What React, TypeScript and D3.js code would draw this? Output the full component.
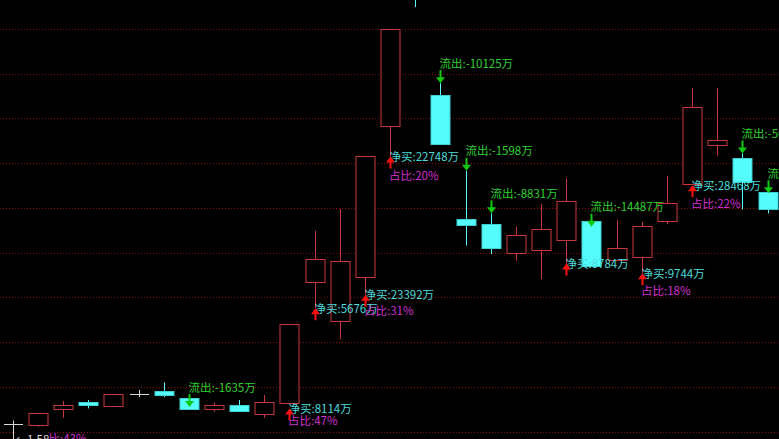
import React from 'react';
import * as d3 from 'd3';

const W = 779;
const H = 439;

// OHLC per session (price units)
const opens = [1.617, 1.614, 1.650, 1.666, 1.658, 1.684, 1.691, 1.676, 1.650, 1.660, 1.639, 1.665, 1.934, 1.848, 1.945, 2.284, 2.620, 2.352, 2.075, 2.065, 1.999, 2.005, 2.029, 2.071, 1.984, 1.990, 2.070, 2.154, 2.240, 2.211, 2.135];
const highs = [1.625, 1.641, 1.669, 1.671, 1.684, 1.693, 1.710, 1.678, 1.665, 1.671, 1.682, 1.841, 2.049, 2.098, 2.216, 2.500, 2.640, 2.379, 2.183, 2.088, 2.058, 2.109, 2.166, 2.071, 2.073, 2.069, 2.172, 2.368, 2.368, 2.222, 2.158];
const lows = [1.580, 1.611, 1.631, 1.652, 1.656, 1.677, 1.677, 1.651, 1.645, 1.646, 1.631, 1.665, 1.876, 1.807, 1.906, 2.213, 2.549, 2.242, 2.016, 1.997, 1.982, 1.941, 1.954, 1.971, 1.984, 1.954, 2.064, 2.151, 2.217, 2.097, 2.088];
const closes = [1.617, 1.641, 1.660, 1.660, 1.684, 1.684, 1.681, 1.651, 1.660, 1.646, 1.666, 1.841, 1.985, 1.981, 2.216, 2.500, 2.580, 2.242, 2.061, 2.011, 2.039, 2.054, 2.115, 1.971, 2.010, 2.060, 2.111, 2.326, 2.251, 2.157, 2.098];

const gridValues = [1.6, 1.7, 1.8, 1.9, 2.0, 2.1, 2.2, 2.3, 2.4, 2.5];

// 流出 annotations
const outIdx = [7, 17, 18, 19, 23, 29, 30];
const outVals = [-1635, -10125, -1598, -8831, -14487, -5612, -2315];
const outAnchor = [1.655, 2.379, 2.183, 2.088, 2.058, 2.222, 2.133];

// 净买 annotations
const buyIdx = [11, 12, 14, 15, 22, 25, 27];
const buyVals = [8114, 5676, 23392, 22748, 8784, 9744, 28468];
const buyAnchor = [1.652, 1.876, 1.906, 2.215, 1.976, 1.954, 2.151];

// 占比 annotations
const ratioIdx = [1, 11, 14, 15, 25, 27];
const ratioVals = [43, 47, 31, 20, 18, 22];
const ratioAnchor = [1.584, 1.626, 1.871, 2.172, 1.915, 2.111];

const lowLabelIdx = 0;
const lowLabelValue = 1.58;

const RED = '#c8383a';
const CYAN = '#55fcfc';
const WHITE = '#d8d8d8';
const FONT = '"Noto Sans CJK SC", "Noto Sans", sans-serif';

export default function App() {
  const x = d3.scaleLinear().domain([0, 30]).range([12.7, 767.5]);
  const y = d3.scaleLinear().domain([1.6, 2.5]).range([431.7, 29]);
  const bw = 19;

  const candles = opens.map((o, i) => {
    const c = closes[i];
    const cx = Math.round(x(i)) + 0.5;
    const up = c > o;
    const flat = Math.abs(c - o) < 1e-9;
    const color = flat ? WHITE : up ? RED : CYAN;
    const yTop = Math.round(y(Math.max(o, c))) + 0.5;
    const yBot = Math.round(y(Math.min(o, c))) + 0.5;
    const yH = y(highs[i]);
    const yL = y(lows[i]);
    if (flat) {
      return (
        <g key={i}>
          <line x1={cx} x2={cx} y1={yH} y2={yL} stroke={color} strokeWidth={1} />
          <line x1={cx - bw / 2} x2={cx + bw / 2} y1={yTop} y2={yTop} stroke={color} strokeWidth={1} />
        </g>
      );
    }
    return (
      <g key={i}>
        <line x1={cx} x2={cx} y1={yH} y2={yTop} stroke={color} strokeWidth={1} />
        <line x1={cx} x2={cx} y1={yBot} y2={yL} stroke={color} strokeWidth={1} />
        <rect
          x={cx - bw / 2}
          y={yTop}
          width={bw}
          height={Math.max(1, yBot - yTop)}
          fill={up ? '#000' : CYAN}
          stroke={up ? color : '#3fd0d0'}
          strokeWidth={1}
        />
      </g>
    );
  });

  return (
    <div style={{ position: 'fixed', left: 0, top: 0, width: W, height: H, background: '#000' }}>
      <svg width={W} height={H} style={{ display: 'block', background: '#000' }}>
        {gridValues.map((g) => (
          <line
            key={g}
            x1={0}
            x2={W}
            y1={Math.round(y(g)) + 0.5}
            y2={Math.round(y(g)) + 0.5}
            stroke="#8a0c0c"
            strokeWidth={1}
            strokeDasharray="1 2"
          />
        ))}
        {candles}
        {outIdx.map((idx, k) => {
          const cx = Math.round(x(idx)) + 0.5;
          const ty = y(outAnchor[k]);
          return (
            <g key={'o' + k}>
              <line x1={cx} x2={cx} y1={ty - 13} y2={ty - 4} stroke="#10c810" strokeWidth={2} />
              <path d={`M${cx - 4.5},${ty - 6}L${cx + 4.5},${ty - 6}L${cx},${ty}Z`} fill="#10c810" />
              <text x={cx - 1} y={ty - 15.5} fill="#30d030" fontSize={11.5} fontFamily={FONT}>
                {`流出:${outVals[k]}万`}
              </text>
            </g>
          );
        })}
        {buyIdx.map((idx, k) => {
          const cx = Math.round(x(idx)) + 0.5;
          const ty = y(buyAnchor[k]);
          return (
            <g key={'b' + k}>
              <text x={cx - 1} y={ty + 4.5} fill="#4cdada" fontSize={11.5} fontFamily={FONT}>
                {`净买:${buyVals[k]}万`}
              </text>
              <line x1={cx} x2={cx} y1={ty + 4} y2={ty + 12} stroke="#ff1010" strokeWidth={2} />
              <path d={`M${cx - 4.5},${ty + 6}L${cx + 4.5},${ty + 6}L${cx},${ty}Z`} fill="#ff1010" />
            </g>
          );
        })}
        {ratioIdx.map((idx, k) => {
          const cx = Math.round(x(idx)) + 0.5;
          const ty = y(ratioAnchor[k]);
          return (
            <text key={'r' + k} x={cx - 1.5} y={ty + 4.5} fill="#d030d0" fontSize={11.5} fontFamily={FONT}>
              {`占比:${ratioVals[k]}%`}
            </text>
          );
        })}
        {(() => {
          const cx = Math.round(x(lowLabelIdx)) + 0.5;
          const ty = y(lowLabelValue);
          return (
            <g>
              <rect x={cx + 2} y={ty - 9} width={32} height={14} fill="#000" />
              <text x={cx + 2} y={ty + 3} fill={WHITE} fontSize={11.5} fontFamily={FONT}>
                {`←${lowLabelValue.toFixed(2)}`}
              </text>
            </g>
          );
        })()}
      </svg>
    </div>
  );
}
